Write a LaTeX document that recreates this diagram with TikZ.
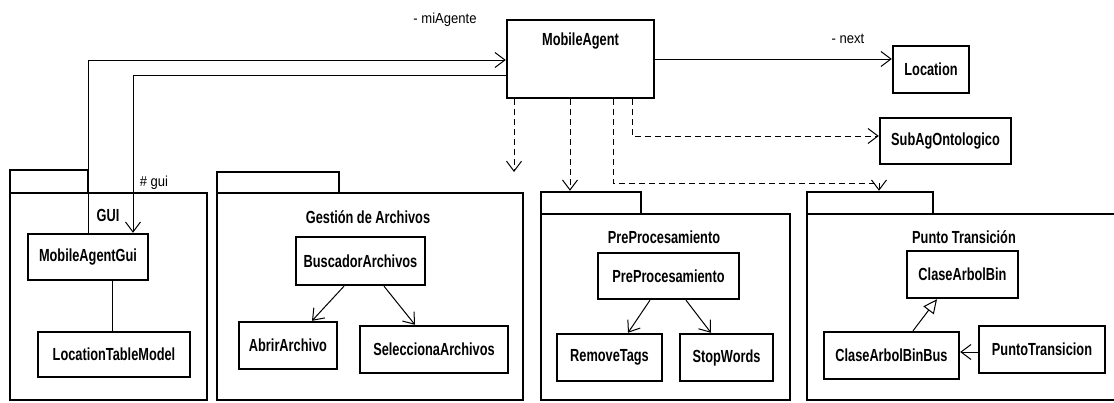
\documentclass[tikz,border=0pt]{standalone}
\usepackage{fontspec}
\setmainfont{Liberation Sans}[FakeStretch=0.73]
\newfontfamily\rolefont{Liberation Sans}[FakeStretch=0.9]
\usetikzlibrary{arrows.meta}

\begin{document}
\begin{tikzpicture}[x=1pt,y=-1pt,
  box/.style={draw, line width=2.4pt, inner sep=0pt},
  classbox/.style={box, font=\fontsize{17.5}{20}\selectfont\bfseries},
  pkgtitle/.style={inner sep=0pt, font=\fontsize{17.5}{20}\selectfont\bfseries},
  role/.style={inner sep=0pt, font=\rolefont\fontsize{14.5}{16}\selectfont},
  navtip/.tip={Straight Barb[length=10pt, width=15pt]},
  nav/.style={line width=1pt, -navtip},
  plain/.style={line width=1pt},
  dep/.style={line width=1pt, dash pattern=on 6pt off 4pt, -navtip},
  gen/.style={line width=1pt, -{Triangle[open, length=14pt, width=13pt]}}
]
\useasboundingbox (0,0) rectangle (1114,402);
\clip (0,0) rectangle (1114,402);

% central class and its direct neighbours
\node[classbox, minimum width=147pt, minimum height=78pt,
      label={[name=matitle, anchor=north, yshift=-14pt, pkgtitle]north:MobileAgent}]
      (ma) at (580.5,59) {};
\node[classbox, minimum width=76pt, minimum height=47pt] (loc) at (931,69.5) {Location};
\node[classbox, minimum width=131pt, minimum height=46pt] (sub) at (945.5,141) {SubAgOntologico};

% package GUI
\node[box, minimum width=78pt, minimum height=23pt] (guiTab) at (49,181.5) {};
\node[box, minimum width=197pt, minimum height=207pt] (guiBody) at (108.5,296.5) {};
\node[pkgtitle] (guiTitle) at (108,215) {GUI};
\node[classbox, minimum width=120pt, minimum height=46pt] (magui) at (88,257) {MobileAgentGui};
\node[classbox, minimum width=152pt, minimum height=45pt] (ltm) at (114,354.5) {LocationTableModel};

% package Gestion de Archivos
\node[box, minimum width=122pt, minimum height=21pt] (gesTab) at (278,182.5) {};
\node[box, minimum width=306pt, minimum height=207pt] (gesBody) at (370,296.5) {};
\node[pkgtitle] (gesTitle) at (368,217) {Gestión de Archivos};
\node[classbox, minimum width=129pt, minimum height=48pt] (busc) at (360.5,261) {BuscadorArchivos};
\node[classbox, minimum width=98pt, minimum height=47pt] (abrir) at (288,345.5) {AbrirArchivo};
\node[classbox, minimum width=148pt, minimum height=47pt] (selec) at (434,349.5) {SeleccionaArchivos};

% package PreProcesamiento
\node[box, minimum width=100pt, minimum height=22pt] (ppTab) at (591,203) {};
\node[box, minimum width=249pt, minimum height=186pt] (ppBody) at (665.5,307) {};
\node[pkgtitle] (ppTitle) at (664,237) {PreProcesamiento};
\node[classbox, minimum width=141pt, minimum height=46pt] (ppc) at (668.5,276) {PreProcesamiento};
\node[classbox, minimum width=105pt, minimum height=47pt] (rtags) at (609.5,357.5) {RemoveTags};
\node[classbox, minimum width=93pt, minimum height=47pt] (stopw) at (726.5,357.5) {StopWords};

% package Punto Transicion (runs past the right margin)
\node[box, minimum width=126pt, minimum height=22pt] (ptTab) at (870,203) {};
\node[box, minimum width=323pt, minimum height=186pt] (ptBody) at (968.5,307) {};
\node[pkgtitle] (ptTitle) at (964,237) {Punto Transición};
\node[classbox, minimum width=111pt, minimum height=47pt] (cab) at (962.5,274.5) {ClaseArbolBin};
\node[classbox, minimum width=135pt, minimum height=47pt] (cabb) at (891.5,355.5) {ClaseArbolBinBus};
\node[classbox, minimum width=126pt, minimum height=47pt] (ptc) at (1042,349.5) {PuntoTransicion};

% role names
\node[role] (miAgente) at (445,20) {- miAgente};
\node[role] (guiRole) at (154,183) {\# gui};
\node[role] (nextRole) at (848,39) {- next};

% associations of MobileAgent
\draw[nav] (magui.north) |- ([yshift=-1pt]ma.west);
\draw[nav] ([yshift=-16pt]ma.west) -| ([xshift=45pt]magui.north);
\draw[nav] (ma.east) -- (ma.east -| loc.west);
\draw[plain] ([xshift=24pt]magui.south) -- ([xshift=24pt]magui.south |- ltm.north);

% dependencies from MobileAgent
\coordinate (gesIn) at (514,172);
\coordinate (ppIn) at (570,0);
\coordinate (ptOut) at (613,0);
\coordinate (ptTurn) at (879,183);
\coordinate (subOut) at (632,0);
\draw[dep] (ma.south -| gesIn) -- (gesIn);
\draw[dep] (ma.south -| ppIn) -- (ppTab.north -| ppIn);
\draw[dep] (ma.south -| ptOut) |- (ptTurn) -- (ptTurn |- ptTab.north);
\draw[dep] (ma.south -| subOut) |- ([yshift=5pt]sub.west);

% relations inside the packages
\draw[nav] ([xshift=-16.5pt]busc.south) -- ([xshift=24pt]abrir.north);
\draw[nav] ([xshift=23.5pt]busc.south) -- ([xshift=-19pt]selec.north);
\draw[nav] ([xshift=-18.5pt]ppc.south) -- ([xshift=18.5pt]rtags.north);
\draw[nav] ([xshift=17.5pt]ppc.south) -- ([xshift=-15.5pt]stopw.north);
\draw[gen] ([xshift=21.5pt]cabb.north) -- ([xshift=-25.5pt]cab.south);
\draw[nav] ([yshift=-2.5pt]ptc.west) -- ([yshift=-2.5pt]ptc.west -| cabb.east);
\end{tikzpicture}
\end{document}
